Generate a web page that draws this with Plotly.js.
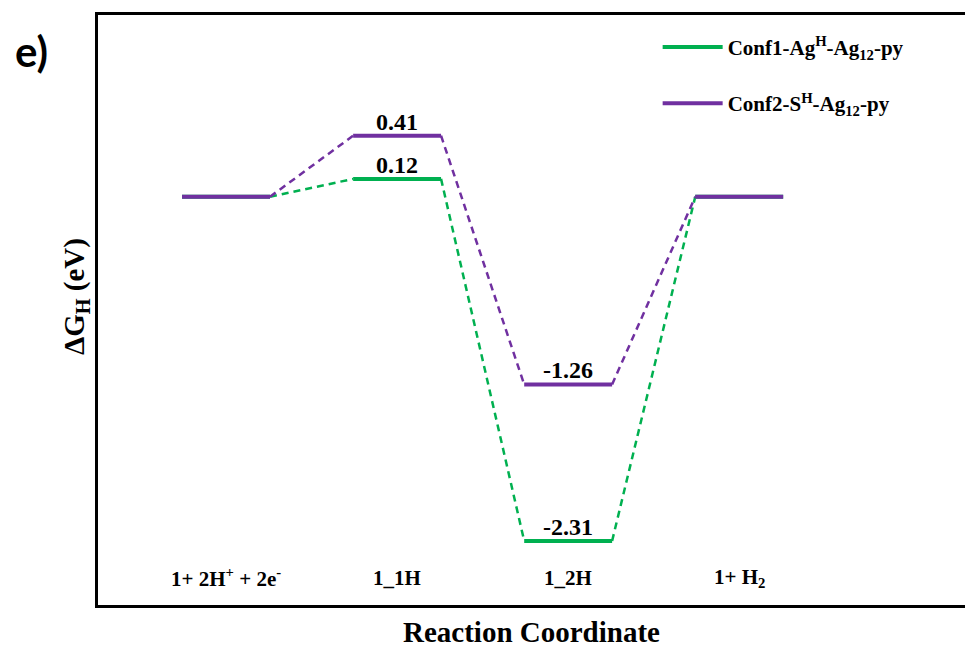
<!DOCTYPE html>
<html>
<head>
<meta charset="utf-8">
<script src="https://cdn.plot.ly/plotly-3.0.1.min.js"></script>
<style>html,body{margin:0;padding:0;background:#fff;}#chart{width:965px;height:650px;}</style>
</head>
<body>
<div id="chart"></div>
<script>
// ---- data ----
const categories = ["1+ 2H<sup>+</sup> + 2e<sup>-</sup>", "1_1H", "1_2H", "1+ H<sub>2</sub>"];
const conf1Name = "Conf1-Ag<sup>H</sup>-Ag<sub>12</sub>-py";
const conf2Name = "Conf2-S<sup>H</sup>-Ag<sub>12</sub>-py";
const conf1Values = [0, 0.12, -2.31, 0];
const conf2Values = [0, 0.41, -1.26, 0];
const labelledSteps = [1, 2];
const xTitle = "Reaction Coordinate";
const yTitle = "ΔG<sub>H</sub> (eV)";
const panelLabel = "e)";

const GREEN = "#00b050";
const PURPLE = "#7030a0";
const HALF = 0.257;
const SERIF = "Liberation Serif, Times New Roman, serif";

function levelTrace(vals, name, color, group) {
  const x = [], y = [];
  vals.forEach((v, i) => {
    x.push(i + 1 - HALF, i + 1 + HALF, null);
    y.push(v, v, null);
  });
  return {x, y, mode: "lines", name: "<b>" + name + "</b>", legendgroup: group,
    line: {color, width: 4}, hoverinfo: "skip"};
}
function dashTrace(vals, color, group) {
  const x = [], y = [];
  for (let i = 0; i < vals.length - 1; i++) {
    x.push(i + 1 + HALF, i + 2 - HALF, null);
    y.push(vals[i], vals[i + 1], null);
  }
  return {x, y, mode: "lines", showlegend: false, legendgroup: group,
    line: {color, width: 2.5, dash: "7px,5px"}, hoverinfo: "skip"};
}

const traces = [
  dashTrace(conf1Values, GREEN, "g1"),
  dashTrace(conf2Values, PURPLE, "g2"),
  levelTrace(conf1Values, conf1Name, GREEN, "g1"),
  levelTrace(conf2Values, conf2Name, PURPLE, "g2")
];

const annotations = [];
[conf1Values, conf2Values].forEach(vals => {
  labelledSteps.forEach(i => {
    annotations.push({x: i + 1, y: vals[i], xref: "x", yref: "y",
      text: "<b>" + vals[i].toFixed(2) + "</b>", showarrow: false,
      yanchor: "bottom", yshift: -1,
      font: {family: SERIF, size: 24, color: "#000"}});
  });
});
categories.forEach((c, i) => {
  annotations.push({x: i + 1, y: 0.046, xref: "x", yref: "paper",
    text: "<b>" + c + "</b>", showarrow: false, yanchor: "middle",
    font: {family: SERIF, size: 21, color: "#000"}});
});
annotations.push({x: (31 - 98) / 867, y: (605 - 51) / 590, xref: "paper", yref: "paper",
  xanchor: "center", yanchor: "middle", text: "<b>" + panelLabel + "</b>", showarrow: false,
  font: {family: "Lato, Liberation Sans, sans-serif", size: 42, color: "#000"}});
annotations.push({x: (76 - 98) / 867, y: (605 - 297) / 590, xref: "paper", yref: "paper",
  xanchor: "center", yanchor: "middle", textangle: -90, text: "<b>" + yTitle + "</b>",
  showarrow: false, font: {family: SERIF, size: 29, color: "#000"}});

const layout = {
  width: 965, height: 650,
  margin: {l: 98, r: 0, t: 15, b: 45},
  paper_bgcolor: "#fff", plot_bgcolor: "#fff",
  showlegend: true,
  legend: {x: 0.6455, y: 0.98, xanchor: "left", yanchor: "top",
    bgcolor: "rgba(0,0,0,0)", itemwidth: 60, tracegroupgap: 26,
    font: {family: SERIF, size: 21, color: "#000"}},
  xaxis: {range: [0.2515, 5.32], showgrid: false, zeroline: false,
    showticklabels: false, ticks: "", showline: true, mirror: true,
    linecolor: "#000", linewidth: 3,
    title: {text: "<b>" + xTitle + "</b>", standoff: 15,
      font: {family: SERIF, size: 29, color: "#000"}}},
  yaxis: {range: [-2.74, 1.22], showgrid: false, zeroline: false,
    showticklabels: false, ticks: "", showline: true, mirror: true,
    linecolor: "#000", linewidth: 3},
  annotations
};

Plotly.newPlot("chart", traces, layout, {displayModeBar: false, staticPlot: true});
</script>
</body>
</html>
